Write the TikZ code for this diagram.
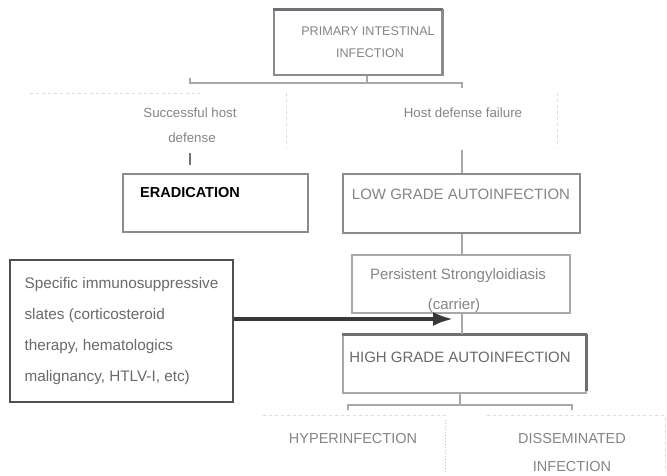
\documentclass[tikz,border=0pt]{standalone}
\usepackage{fontspec}
\setmainfont{Liberation Sans}
\usetikzlibrary{arrows.meta}
\definecolor{txtgray}{HTML}{6A6A6A}
\definecolor{txtlight}{HTML}{858585}
\definecolor{linegray}{HTML}{8C8C8C}
\definecolor{lightline}{HTML}{A8A8A8}
\definecolor{faint}{HTML}{DCDCDC}
\definecolor{darkline}{HTML}{505050}
\definecolor{heavyedge}{HTML}{6E6E78}
\definecolor{arrowcol}{HTML}{383838}
\begin{document}
\begin{tikzpicture}[x=1pt,y=-1pt,
  box/.style={draw=linegray, line width=1.1pt, inner sep=0pt, fill=none},
  lbl/.style={inner sep=0pt, text=txtgray, font=\fontsize{15}{18}\selectfont},
  small/.style={inner sep=0pt, text=txtlight, font=\fontsize{13.3}{16}\selectfont},
  conn/.style={draw=lightline, line width=1.1pt},
  faintline/.style={draw=faint, line width=1pt, dashed},
  heavy/.style={draw=heavyedge, line width=2.6pt}]
\useasboundingbox (0,0) rectangle (667,475);
\fill[white] (0,0) rectangle (667,475);

% faint scan/table lines
\draw[faintline] (30,93) -- (200,93);
\draw[faintline] (286,93) -- (286,148);
\draw[faintline] (557,93) -- (557,148);
\draw[faintline] (263,415) -- (447,415);
\draw[faintline] (487,415) -- (667,415);
\draw[faintline, draw=lightline!70, dotted] (445,420) -- (445,472);
\draw[faintline] (665,418) -- (665,470);

% boxes
\node[box, minimum width=168pt, minimum height=65pt] (prim) at (358,42.5) {};
\draw[heavy] (prim.north west) -- (prim.north east);
\draw[heavy, draw=linegray, line width=2pt] (prim.north east) -- (prim.south east);
\node[lbl, text=txtlight, font=\fontsize{12.6}{15}\selectfont] (primA) at (368,31) {PRIMARY INTESTINAL};
\node[lbl, text=txtlight, font=\fontsize{12.6}{15}\selectfont] (primB) at (370,53) {INFECTION};

\node[small] (succA) at (190,113) {Successful host};
\node[small] (succB) at (192,138) {defense};
\node[small] (fail) at (463,113) {Host defense failure};

\node[box, minimum width=185pt, minimum height=58pt] (erad) at (215.5,203) {};
\node[lbl, text=black, font=\fontsize{14.5}{17}\selectfont\bfseries] (eradT) at (190,193) {ERADICATION};

\node[box, minimum width=237pt, minimum height=59pt] (low) at (461.5,203.5) {};
\node[lbl, text=txtlight] (lowT) at (461,194) {LOW GRADE AUTOINFECTION};

\node[box, draw=lightline, minimum width=218pt, minimum height=58pt] (pers) at (461,284) {};
\node[lbl, text=txtlight] (persA) at (458,276) {Persistent Strongyloidiasis};
\node[lbl, text=txtlight] (persB) at (454,306) {(carrier)};

\node[box, draw=lightline, minimum width=243pt, minimum height=58pt] (high) at (464.5,364) {};
\draw[heavy] (high.north west) -- (high.north east);
\draw[heavy] (high.north east) -- ([yshift=3pt]high.south east);
\node[lbl] (highT) at (460,357) {HIGH GRADE AUTOINFECTION};

\node[box, draw=darkline, line width=1.8pt, minimum width=223pt, minimum height=142pt,
      align=left, text=txtgray, font=\fontsize{15.3}{31}\selectfont] (spec) at (121.5,331)
  {Specific immunosuppressive\\slates (corticosteroid\\therapy, hematologics\\malignancy, HTLV-I, etc)};

\node[lbl, text=txtlight, font=\fontsize{14.5}{17}\selectfont] (hyper) at (353,438) {HYPERINFECTION};
\node[lbl, text=txtlight, font=\fontsize{14.5}{17}\selectfont] (dissA) at (572,438) {DISSEMINATED};
\node[lbl, text=txtlight, font=\fontsize{14.5}{17}\selectfont] (dissB) at (572,466) {INFECTION};

% connectors top split
\coordinate (split) at (367,83);
\coordinate (sl) at (190,83);
\coordinate (sr) at (462,83);
\draw[conn] (prim.south -| split) -- (split);
\draw[conn] ([yshift=5pt]sl) -- (sl) -- (sr) -- ([yshift=-5pt]sr);
\coordinate (ea) at (190,153);
\coordinate (eb) at (190,165);
\draw[conn, draw=darkline!80] (ea) -- (eb);
\coordinate (fa) at (462,150);
\draw[conn] (fa) -- (low.north -| fa);

% chain
\draw[conn] (low.south -| fa) -- (pers.north -| fa);
\draw[conn] (pers.south -| fa) -- (high.north -| fa);

% arrow from spec
\coordinate (tip) at (453,319);
\draw[draw=arrowcol, line width=3.6pt, -{Latex[length=20pt,width=14pt]}] (spec.east |- tip) -- (tip);

% bottom split
\coordinate (bsplit) at (460,405);
\coordinate (bl) at (348,405);
\coordinate (br) at (572,405);
\draw[conn] (high.south -| bsplit) -- (bsplit);
\draw[conn] ([yshift=-5pt]bl) -- (bl) -- (br) -- ([yshift=-5pt]br);
\end{tikzpicture}
\end{document}
